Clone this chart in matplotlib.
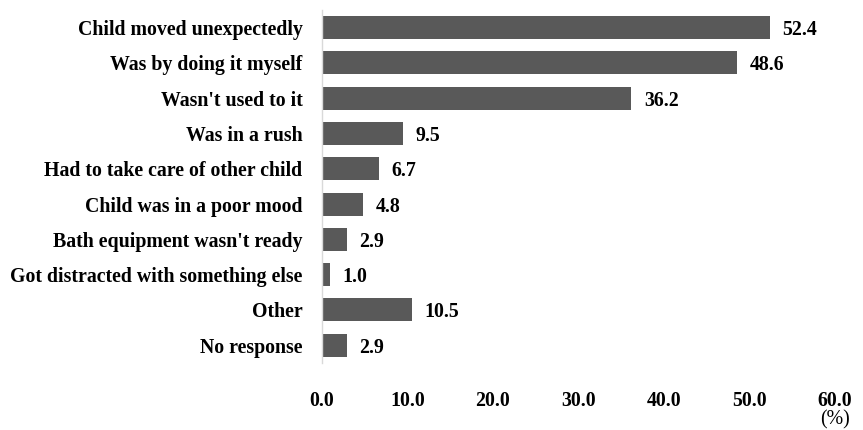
import matplotlib
matplotlib.use("Agg")
import matplotlib.pyplot as plt

reasons = ["Child moved unexpectedly", "Was by doing it myself", "Wasn't used to it",
           "Was in a rush", "Had to take care of other child", "Child was in a poor mood",
           "Bath equipment wasn't ready", "Got distracted with something else",
           "Other", "No response"]
pct = [52.4, 48.6, 36.2, 9.5, 6.7, 4.8, 2.9, 1.0, 10.5, 2.9]
xticks = [0, 10, 20, 30, 40, 50, 60]

plt.rcParams["font.family"] = ["Liberation Serif", "DejaVu Serif"]
plt.rcParams["font.weight"] = "bold"

fig = plt.figure(figsize=(8.63, 4.30), dpi=100)
ax = fig.add_axes([0.373, 0.156, 0.5945, 0.821])
y = list(range(len(reasons)))
ax.barh(y, pct, height=0.65, color="#595959")
for yi, v in zip(y, pct):
    ax.text(v + 1.45, yi, f"{v:.1f}", va="center_baseline", ha="left",
            fontsize=14.3, fontweight="bold")

ax.set_ylim(len(reasons) - 0.5, -0.5)
ax.set_xlim(0, 60)
ax.set_yticks(y)
ax.set_yticklabels(reasons, fontsize=14.3, fontweight="bold", va="center_baseline")
ax.set_xticks(xticks)
ax.set_xticklabels([f"{t:.1f}" for t in xticks], fontsize=14.3, fontweight="bold")
ax.tick_params(axis="both", length=0)
ax.tick_params(axis="y", pad=14)
ax.tick_params(axis="x", pad=20)
for s in ["top", "right", "bottom"]:
    ax.spines[s].set_visible(False)
ax.spines["left"].set_color("#d9d9d9")
ax.spines["left"].set_linewidth(1.0)
fig.text(0.9676, 0.023, "(%)", ha="center", va="center", fontsize=14.3, fontweight="normal")

fig.savefig("out.png", dpi=100)
